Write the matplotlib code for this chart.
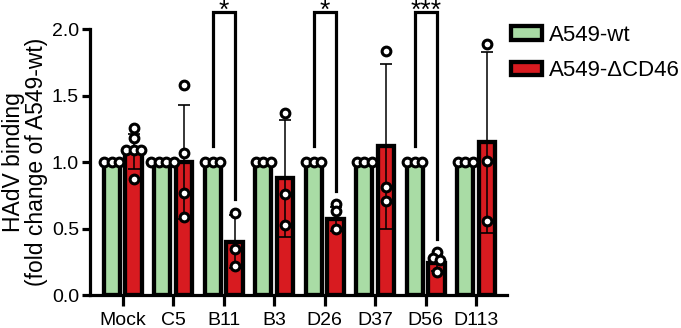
import numpy as np
import matplotlib.pyplot as plt

plt.rcParams['font.family'] = ['Liberation Sans', 'DejaVu Sans']

groups = ["Mock", "C5", "B11", "B3", "D26", "D37", "D56", "D113"]
series = ["A549-wt", "A549-\u0394CD46"]

wt_mean = [1.0, 1.0, 1.0, 1.0, 1.0, 1.0, 1.0, 1.0]
wt_sd = [0, 0, 0, 0, 0, 0, 0, 0]
wt_pts = [[1.0, 1.0, 1.0], [1.0, 1.0, 1.0, 1.0], [1.0, 1.0, 1.0], [1.0, 1.0, 1.0],
          [1.0, 1.0, 1.0], [1.0, 1.0, 1.0], [1.0, 1.0, 1.0], [1.0, 1.0, 1.0]]

ko_mean = [1.08, 1.00, 0.40, 0.88, 0.57, 1.12, 0.24, 1.15]
ko_sd = [0.13, 0.43, 0.20, 0.44, 0.09, 0.62, 0.06, 0.68]
ko_pts = [[1.26, 1.18, 1.09, 1.09, 1.09, 0.87], [1.58, 1.07, 0.77, 0.59], [0.62, 0.35, 0.22],
          [1.37, 0.76, 0.53], [0.685, 0.635, 0.495], [1.84, 0.815, 0.71],
          [0.32, 0.28, 0.26, 0.175], [1.89, 1.01, 0.56]]

sig_groups = ["B11", "D26", "D56"]
sig_labels = ["*", "*", "***"]

green = '#a9dca5'
red = '#d81b20'


def spread(vals, step=0.15, thr=0.035):
    # simple swarm: points that sit at about the same height go side by side
    vals = sorted(vals, reverse=True)
    clusters = [[vals[0]]]
    for v in vals[1:]:
        if clusters[-1][-1] - v < thr:
            clusters[-1].append(v)
        else:
            clusters.append([v])
    xs, ys = [], []
    for c in clusters:
        n = len(c)
        for i, v in enumerate(c):
            xs.append((i - (n - 1) / 2) * step)
            ys.append(v)
    return np.array(xs), np.array(ys)


fig = plt.figure(figsize=(6.81, 3.28), dpi=100)
ax = fig.add_axes([90 / 681, 1 - 295 / 328, 417 / 681, (295 - 29.3) / 328])

x = np.arange(len(groups))
off = 0.215
w = 0.32

for means, sds, pts, col, lab, sgn in [(wt_mean, wt_sd, wt_pts, green, series[0], -1),
                                       (ko_mean, ko_sd, ko_pts, red, series[1], 1)]:
    xc = x + sgn * off
    ax.bar(xc, means, width=w, color=col, edgecolor='black', linewidth=3.1,
           label=lab, zorder=2)
    ax.errorbar(xc, means, yerr=sds, fmt='none', ecolor='black', elinewidth=1.1,
                capsize=4.5, capthick=1.2, zorder=3, clip_on=False)
    for i in range(len(groups)):
        dx, yy = spread(pts[i])
        ax.plot(xc[i] + dx, yy, 'o', ms=6.3, mfc='white', mec='black', mew=2.2,
                zorder=4, clip_on=False)

for g, s in zip(sig_groups, sig_labels):
    i = groups.index(g)
    x1 = i - off
    x2 = i + off
    y1 = wt_mean[i] + max(wt_sd[i], max(wt_pts[i]) - wt_mean[i]) + 0.12
    y2 = max(ko_mean[i] + ko_sd[i], max(ko_pts[i])) + 0.1
    top = 2.13
    ax.plot([x1, x1, x2, x2], [y1, top, top, y2], color='black', lw=2.3,
            clip_on=False, zorder=5, solid_joinstyle='miter')
    ax.text(i, 2.085, s, ha='center', va='baseline', fontsize=19)

ax.set_xlim(-0.647, 7.61)
ax.set_ylim(0, 2.0)
ax.set_yticks([0, 0.5, 1.0, 1.5, 2.0])
ax.set_yticklabels(["0.0", "0.5", "1.0", "1.5", "2.0"])
ax.set_xticks(x)
ax.set_xticklabels(groups)
ax.tick_params(axis='both', width=2.3, length=6, labelsize=14, pad=2)
ax.tick_params(axis='x', length=8, pad=4)
for sp in ['top', 'right']:
    ax.spines[sp].set_visible(False)
for sp in ['left', 'bottom']:
    ax.spines[sp].set_linewidth(2.3)
ax.set_ylabel("HAdV binding\n(fold change of A549-wt)", fontsize=16.5,
              linespacing=1.0, labelpad=3)

ax.legend(loc='upper left', bbox_to_anchor=(511 / 681, 1 - 25 / 328),
          bbox_transform=fig.transFigure, frameon=False, fontsize=16,
          handlelength=1.4, handleheight=0.55, handletextpad=0.3,
          labelspacing=0.65, borderpad=0, borderaxespad=0)

fig.savefig('out.png', dpi=100)
